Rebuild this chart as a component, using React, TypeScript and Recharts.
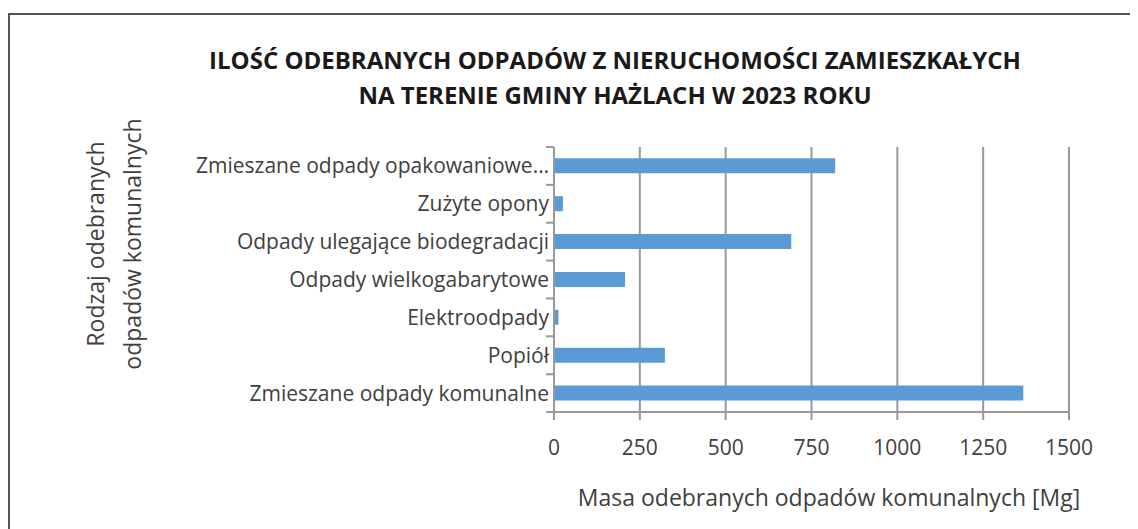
import { BarChart, Bar, XAxis, YAxis, CartesianGrid } from "recharts";

// top-to-bottom order, as drawn in the original
const categories = [
  "Zmieszane odpady opakowaniowe…",
  "Zużyte opony",
  "Odpady ulegające biodegradacji",
  "Odpady wielkogabarytowe",
  "Elektroodpady",
  "Popiół",
  "Zmieszane odpady komunalne",
];
const masses = [819, 26, 691, 207, 13, 323, 1367];
const massTicks = [0, 250, 500, 750, 1000, 1250, 1500];

const titleLines = [
  "ILOŚĆ ODEBRANYCH ODPADÓW Z NIERUCHOMOŚCI ZAMIESZKAŁYCH",
  "NA TERENIE GMINY HAŻLACH W 2023 ROKU",
];
const yTitleLines = ["Rodzaj odebranych", "odpadów komunalnych"];
const xTitle = "Masa odebranych odpadów komunalnych [Mg]";

const data = categories.map((name, i) => ({ name, mass: masses[i] }));

const FONT = "'Open Sans', sans-serif";
const GRID = "#999999";
const TEXT = "#404040";
const LABEL_GAP = 5;
const TICK_LEN = 8;

const CHART_W = 1130;
const CHART_H = 521;
const MARGIN = { top: 139, right: 69, left: 0, bottom: 87 };
const X_AXIS_H = 30;
const Y_AXIS_W = 546;
const PLOT_H = CHART_H - MARGIN.top - MARGIN.bottom - X_AXIS_H;

// category label + Excel-style tick marks between categories
function CategoryTick(props: any) {
  const x = Number(props.x);
  const y = Number(props.y);
  const { payload, index } = props;
  const count = categories.length;
  const half = PLOT_H / count / 2;
  const axisX = x + LABEL_GAP;
  const last = Number(index) === count - 1;
  const d =
    `M${axisX - TICK_LEN},${y - half}H${axisX}` +
    (last ? `M${axisX - TICK_LEN},${y + half}H${axisX}` : "");
  return (
    <g>
      <path d={d} stroke={GRID} strokeWidth={2} fill="none" />
      <text x={x} y={y} dy="0.355em" textAnchor="end" fill={TEXT} fontSize={21} fontFamily={FONT}>
        {payload.value}
      </text>
    </g>
  );
}

export default function App() {
  return (
    <div style={{ position: "relative", width: CHART_W, height: CHART_H, overflow: "hidden", fontFamily: FONT }}>
      <div
        style={{
          position: "absolute",
          left: 0,
          top: 5,
          width: 1200,
          height: 600,
          borderTop: "2px solid #555",
          borderLeft: "2px solid #555",
        }}
      />
      <div
        style={{
          position: "absolute",
          left: 107,
          top: 34,
          width: 1000,
          textAlign: "center",
          fontWeight: 700,
          fontSize: 24,
          lineHeight: "35px",
          color: "#1a1a1a",
        }}
      >
        {titleLines.map((t) => (
          <div key={t}>{t}</div>
        ))}
      </div>
      <div
        style={{
          position: "absolute",
          left: -94.5,
          top: 199,
          width: 400,
          height: 74,
          textAlign: "center",
          fontSize: 23,
          lineHeight: "37px",
          color: TEXT,
          transform: "rotate(-90deg)",
          transformOrigin: "center",
        }}
      >
        {yTitleLines.map((t) => (
          <div key={t}>{t}</div>
        ))}
      </div>
      <div
        style={{
          position: "absolute",
          left: 421,
          top: 474,
          width: 800,
          textAlign: "center",
          fontSize: 23,
          lineHeight: "30px",
          color: TEXT,
        }}
      >
        {xTitle}
      </div>
      <div style={{ position: "absolute", left: 0, top: 0 }}>
        <BarChart
          width={CHART_W}
          height={CHART_H}
          data={data}
          layout="vertical"
          barCategoryGap="30%"
          margin={MARGIN}
        >
          <CartesianGrid horizontal={false} stroke={GRID} strokeWidth={2} />
          <XAxis
            type="number"
            domain={[0, 1500]}
            ticks={massTicks}
            interval={0}
            height={X_AXIS_H}
            tickSize={TICK_LEN}
            tickMargin={20}
            axisLine={{ stroke: GRID, strokeWidth: 2 }}
            tickLine={{ stroke: GRID, strokeWidth: 2 }}
            tick={{ fill: TEXT, fontSize: 21, fontFamily: FONT }}
          />
          <YAxis
            type="category"
            dataKey="name"
            width={Y_AXIS_W}
            interval={0}
            tickSize={0}
            tickMargin={LABEL_GAP}
            axisLine={{ stroke: GRID, strokeWidth: 2 }}
            tickLine={false}
            tick={(p: any) => <CategoryTick {...p} />}
          />
          <Bar dataKey="mass" fill="#5B9BD5" isAnimationActive={false} />
        </BarChart>
      </div>
    </div>
  );
}
